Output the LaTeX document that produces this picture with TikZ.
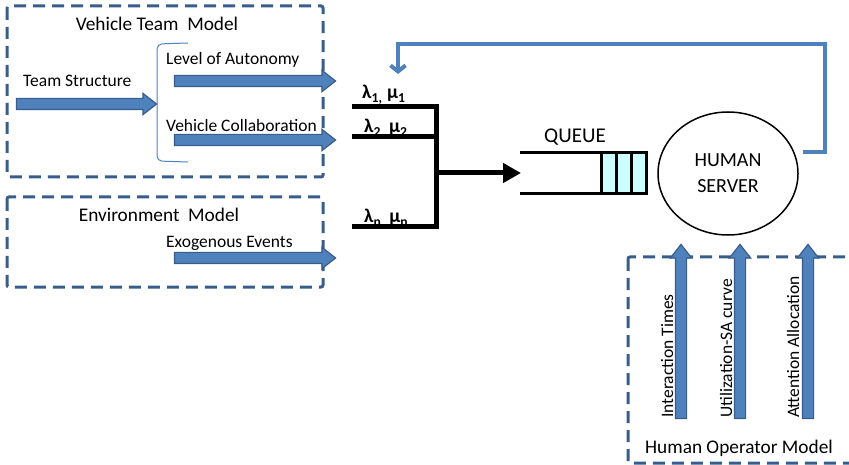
\documentclass[tikz,border=0pt]{standalone}
\usepackage{fontspec}
\setmainfont{Carlito}
\usetikzlibrary{shapes.arrows,shapes.geometric,arrows.meta}
\definecolor{boxblue}{HTML}{385D8A}
\definecolor{arrblue}{HTML}{4F81BD}
\definecolor{qcyan}{HTML}{CCFFFF}
\begin{document}
\begin{tikzpicture}[x=1pt,y=-1pt,
  modelbox/.style={draw=boxblue, line width=3pt, dash pattern=on 12pt off 7pt, rounded corners=2pt},
  blockarrow/.style={single arrow, fill=arrblue, draw=boxblue, line width=1.2pt, inner sep=0pt, inner ysep=5pt,
     single arrow head extend=5pt, single arrow tip angle=76, single arrow head indent=0pt},
  title/.style={font=\fontsize{19.3}{22}\selectfont, inner sep=0pt, anchor=base},
  lab/.style={font=\fontsize{17.5}{20}\selectfont, inner sep=0pt, anchor=base west},
  vlab/.style={font=\fontsize{17.5}{20}\selectfont, inner sep=0pt, anchor=base west, rotate=90},
  lam/.style={font=\fontsize{19.5}{22}\selectfont\bfseries, inner sep=0pt, anchor=base west},
  blk/.style={line width=5pt, black},
  qline/.style={line width=3pt, black},
  cell/.style={draw, line width=3pt, fill=qcyan, minimum width=14.67pt, minimum height=41pt, inner sep=0pt, outer sep=0pt},
  fb/.style={draw=arrblue, line width=4pt, -{Straight Barb[length=6pt,width=15pt]}}]
\useasboundingbox (0,0) rectangle (849,465);
\clip (0,0) rectangle (849,465);

% model boxes
\draw[modelbox] (7,6) rectangle (323,177);
\draw[modelbox] (7,197) rectangle (323,287);
\draw[modelbox] (628,257) rectangle (856,463);

% vehicle team model
\node[title] (vtm) at (157,31) {Vehicle Team \ Model};
\node[lab] (ts) at (23,87) {Team Structure};
\node[blockarrow, minimum height=140pt] (tsa) at (83,104) {};
\draw[arrblue, line width=1pt, rounded corners=5pt] (188,43) -- (157,44) -- (157,161) -- (188,162);
\node[lab] (loa) at (166,64.5) {Level of Autonomy};
\node[blockarrow, minimum height=161pt] (loaa) at (251.5,81) {};
\node[lab] (vc) at (166,132) {Vehicle Collaboration};
\node[blockarrow, minimum height=161pt] (vca) at (251.5,140) {};

% environment model
\node[title] (em) at (159,222) {Environment \ Model};
\node[lab] (ee) at (166,248) {Exogenous Events};
\node[blockarrow, minimum height=161pt] (eea) at (251.5,258) {};

% lambda inputs
\node[lam] (l1) at (362,99) {λ\textsubscript{1,} μ\textsubscript{1}};
\node[lam] (l2) at (364,133) {λ\textsubscript{2,} μ\textsubscript{2}};
\node[lam] (ln) at (364,223) {λ\textsubscript{n,} μ\textsubscript{n}};
\coordinate (a1) at (352,107);
\coordinate (c1) at (436,107);
\coordinate (cn) at (436,227);
\coordinate (an) at (352,227);
\coordinate (a2) at (352,137);
\coordinate (b2) at (436,137);
\draw[blk, miter limit=10] (a1) -- (c1) -- (cn) -- (an);
\draw[blk] (a2) -- (b2);
\coordinate (merge) at (436,173);
\coordinate (qin) at (521,173);
\draw[blk, -{Triangle[length=18pt,width=19pt]}] (merge) -- (qin);

% queue
\node[font=\fontsize{21}{24}\selectfont, inner sep=0pt, anchor=base] (ql) at (575,143) {QUEUE};
\node[cell] (q1) at (609.3,173.5) {};
\node[cell] (q2) at (624,173.5) {};
\node[cell] (q3) at (638.7,173.5) {};
\coordinate (qt) at (520,153);
\coordinate (qb) at (520,194);
\draw[qline] (qt) -- (q1.north west);
\draw[qline] (qb) -- (q1.south west);

% human server
\node[ellipse, draw, line width=1.5pt, minimum width=140pt, minimum height=123pt, align=center,
      font=\fontsize{20}{26}\selectfont] (server) at (728,173.5) {HUMAN\\SERVER};

% feedback
\coordinate (fbs) at (803,152);
\coordinate (fbc) at (825,44);
\coordinate (fbe) at (398,74);
\draw[fb] (fbs) -| (fbc) -| (fbe);

% human operator model
\node[title] (hom) at (739,453) {Human Operator Model};
\node[blockarrow, minimum height=174pt, rotate=90] (it) at (681,335) {};
\node[blockarrow, minimum height=174pt, rotate=90] (us) at (740,335) {};
\node[blockarrow, minimum height=174pt, rotate=90] (aa) at (808,335) {};
\node[vlab] (itl) at (673,418) {Interaction Times};
\node[vlab] (usl) at (732,418) {Utilization-SA curve};
\node[vlab] (aal) at (799,418) {Attention Allocation};
\end{tikzpicture}
\end{document}
